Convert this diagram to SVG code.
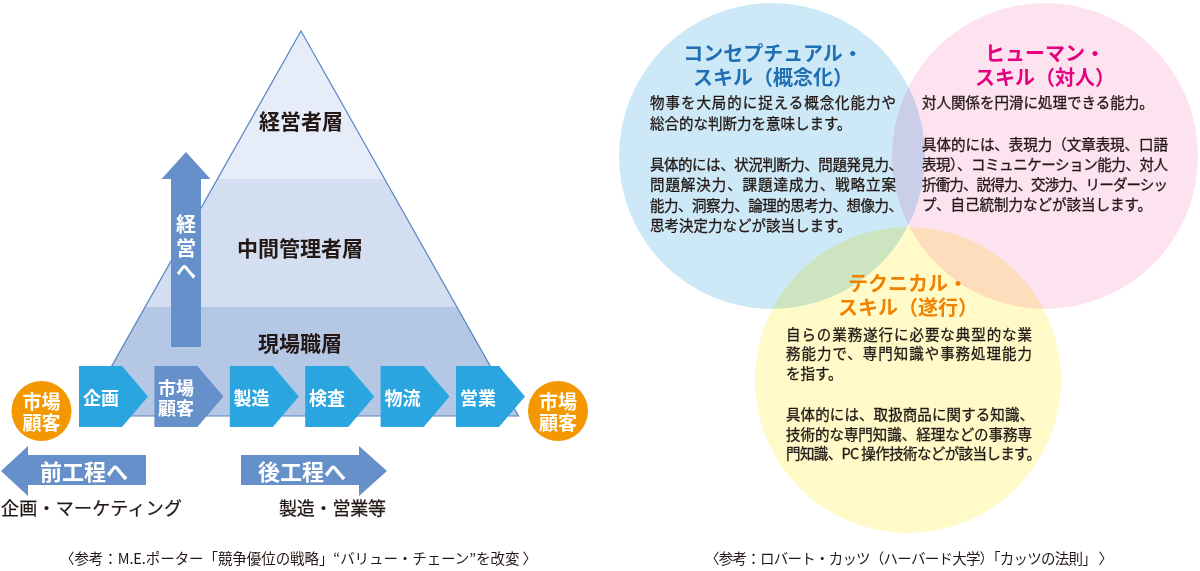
<svg xmlns="http://www.w3.org/2000/svg" width="1200" height="571" viewBox="0 0 1200 571">
<style>
text{font-family:"Noto Sans CJK JP","Noto Sans",sans-serif;}
.lbl{font-size:21px;font-weight:700;fill:#231815;text-anchor:middle;dominant-baseline:central;}
.wt{fill:#fff;font-weight:700;dominant-baseline:central;}
.chev{fill:#2aa5df;}
.blueA{fill:#6690c9;}
.cap{font-size:18px;fill:#231815;dominant-baseline:central;stroke:#231815;stroke-width:0.25;}
.ref{font-size:14.5px;fill:#231815;dominant-baseline:central;}
.body{font-size:14.5px;fill:#231815;dominant-baseline:central;stroke:#231815;stroke-width:0.3;}
.ttl{font-size:20px;font-weight:700;text-anchor:middle;dominant-baseline:central;}
.circ{mix-blend-mode:multiply;}
</style>
<rect width="1200" height="571" fill="#fff"/>

<g id="pyramid">
<polygon points="301,31 384.6,179 217.4,179" fill="#e6edf8"/>
<polygon points="217.4,179 384.6,179 456.9,307 145.1,307" fill="#d3dff0"/>
<polygon points="145.1,307 456.9,307 518.5,416 83.5,416" fill="#b4c8e6"/>
<polygon points="301,31 518.5,416 83.5,416" fill="none" stroke="#5683c4" stroke-width="1.2"/>
<text class="lbl" x="301" y="120">経営者層</text>
<text class="lbl" x="300" y="247">中間管理者層</text>
<text class="lbl" x="300" y="342">現場職層</text>
</g>

<g id="up-arrow">
<polygon class="blueA" points="186,152 210.5,179 201,179 201,347 171,347 171,179 161.5,179"/>
<text class="wt" font-size="20" text-anchor="middle"><tspan x="186" y="223">経</tspan><tspan x="186" y="247">営</tspan><tspan x="186" y="270">へ</tspan></text>
</g>

<g id="chain">
<g id="step-kikaku"><polygon class="chev" points="79,366 122,366 148,396.5 122,427 79,427"/><text class="wt" font-size="18" x="83" y="397">企画</text></g>
<g id="step-shijo"><polygon class="blueA" points="154.4,366 197.4,366 223.4,396.5 197.4,427 154.4,427"/><text class="wt" font-size="18"><tspan x="158" y="387">市場</tspan><tspan x="158" y="407">顧客</tspan></text></g>
<g id="step-seizo"><polygon class="chev" points="229.8,366 272.8,366 298.8,396.5 272.8,427 229.8,427"/><text class="wt" font-size="18" x="233.5" y="397">製造</text></g>
<g id="step-kensa"><polygon class="chev" points="305.2,366 348.2,366 374.2,396.5 348.2,427 305.2,427"/><text class="wt" font-size="18" x="309" y="397">検査</text></g>
<g id="step-butsuryu"><polygon class="chev" points="380.6,366 423.6,366 449.6,396.5 423.6,427 380.6,427"/><text class="wt" font-size="18" x="384.5" y="397">物流</text></g>
<g id="step-eigyo"><polygon class="chev" points="456,366 499,366 525,396.5 499,427 456,427"/><text class="wt" font-size="18" x="460" y="397">営業</text></g>
</g>

<g id="customer-left">
<circle cx="41.5" cy="411" r="30" fill="#f39800"/>
<text class="wt" font-size="19" text-anchor="middle"><tspan x="41.5" y="400">市場</tspan><tspan x="41.5" y="421">顧客</tspan></text>
</g>
<g id="customer-right">
<circle cx="558" cy="411" r="30" fill="#f39800"/>
<text class="wt" font-size="19" text-anchor="middle"><tspan x="558" y="400">市場</tspan><tspan x="558" y="421">顧客</tspan></text>
</g>

<g id="arrow-back">
<polygon class="blueA" points="1,471 28,446 28,455 146,455 146,485 28,485 28,496"/>
<text class="wt" font-size="22" text-anchor="middle" x="84" y="470">前工程へ</text>
</g>
<g id="arrow-forward">
<polygon class="blueA" points="241,455 359,455 359,446 387,471 359,496 359,485 241,485"/>
<text class="wt" font-size="22" text-anchor="middle" x="302" y="470">後工程へ</text>
</g>
<text class="cap" x="1" y="507" textLength="181" lengthAdjust="spacing">企画・マーケティング</text>
<text class="cap" x="279" y="507" textLength="107" lengthAdjust="spacing">製造・営業等</text>
<text class="ref" x="60" y="557" textLength="477" lengthAdjust="spacing">〈参考：M.E.ポーター「競争優位の戦略」“バリュー・チェーン”を改変 〉</text>

<g id="venn">
<circle class="circ" cx="772" cy="156" r="153" fill="#cde9f7"/>
<circle class="circ" cx="1045" cy="156" r="153" fill="#fde2f0"/>
<circle class="circ" cx="908" cy="380" r="153" fill="#fffac8"/>
</g>

<g id="conceptual">
<text class="ttl" fill="#1f6fb5"><tspan x="773" y="52">コンセプチュアル・</tspan><tspan x="773" y="76">スキル（概念化）</tspan></text>
<text class="body" x="650" y="101" textLength="246" lengthAdjust="spacing">物事を大局的に捉える概念化能力や</text>
<text class="body" x="650" y="122">総合的な判断力を意味します。</text>
<text class="body" x="650" y="163" textLength="253" lengthAdjust="spacing">具体的には、状況判断力、問題発見力、</text>
<text class="body" x="650" y="183.5" textLength="246" lengthAdjust="spacing">問題解決力、課題達成力、戦略立案</text>
<text class="body" x="650" y="204" textLength="253" lengthAdjust="spacing">能力、洞察力、論理的思考力、想像力、</text>
<text class="body" x="650" y="224.5">思考決定力などが該当します。</text>
</g>

<g id="human">
<text class="ttl" fill="#e4007f"><tspan x="1045" y="52">ヒューマン・</tspan><tspan x="1045" y="76">スキル（対人）</tspan></text>
<text class="body" x="922" y="101">対人関係を円滑に処理できる能力。</text>
<text class="body" x="922" y="143" textLength="246" lengthAdjust="spacing">具体的には、表現力（文章表現、口語</text>
<text class="body" x="922" y="163" textLength="246" lengthAdjust="spacing">表現）、コミュニケーション能力、対人</text>
<text class="body" x="922" y="183" textLength="246" lengthAdjust="spacing">折衝力、説得力、交渉力、リーダーシッ</text>
<text class="body" x="922" y="203">プ、自己統制力などが該当します。</text>
</g>

<g id="technical">
<text class="ttl" fill="#ef8200"><tspan x="908" y="282">テクニカル・</tspan><tspan x="908" y="306">スキル（遂行）</tspan></text>
<text class="body" x="786" y="333" textLength="246" lengthAdjust="spacing">自らの業務遂行に必要な典型的な業</text>
<text class="body" x="786" y="352.5" textLength="246" lengthAdjust="spacing">務能力で、専門知識や事務処理能力</text>
<text class="body" x="786" y="372">を指す。</text>
<text class="body" x="786" y="413" textLength="248" lengthAdjust="spacing">具体的には、取扱商品に関する知識、</text>
<text class="body" x="786" y="433" textLength="246" lengthAdjust="spacing">技術的な専門知識、経理などの事務専</text>
<text class="body" x="786" y="452.5" textLength="255" lengthAdjust="spacing">門知識、PC 操作技術などが該当します。</text>
</g>

<text class="ref" x="705" y="557" textLength="408" lengthAdjust="spacing">〈参考：ロバート・カッツ（ハーバード大学）「カッツの法則」 〉</text>
</svg>
